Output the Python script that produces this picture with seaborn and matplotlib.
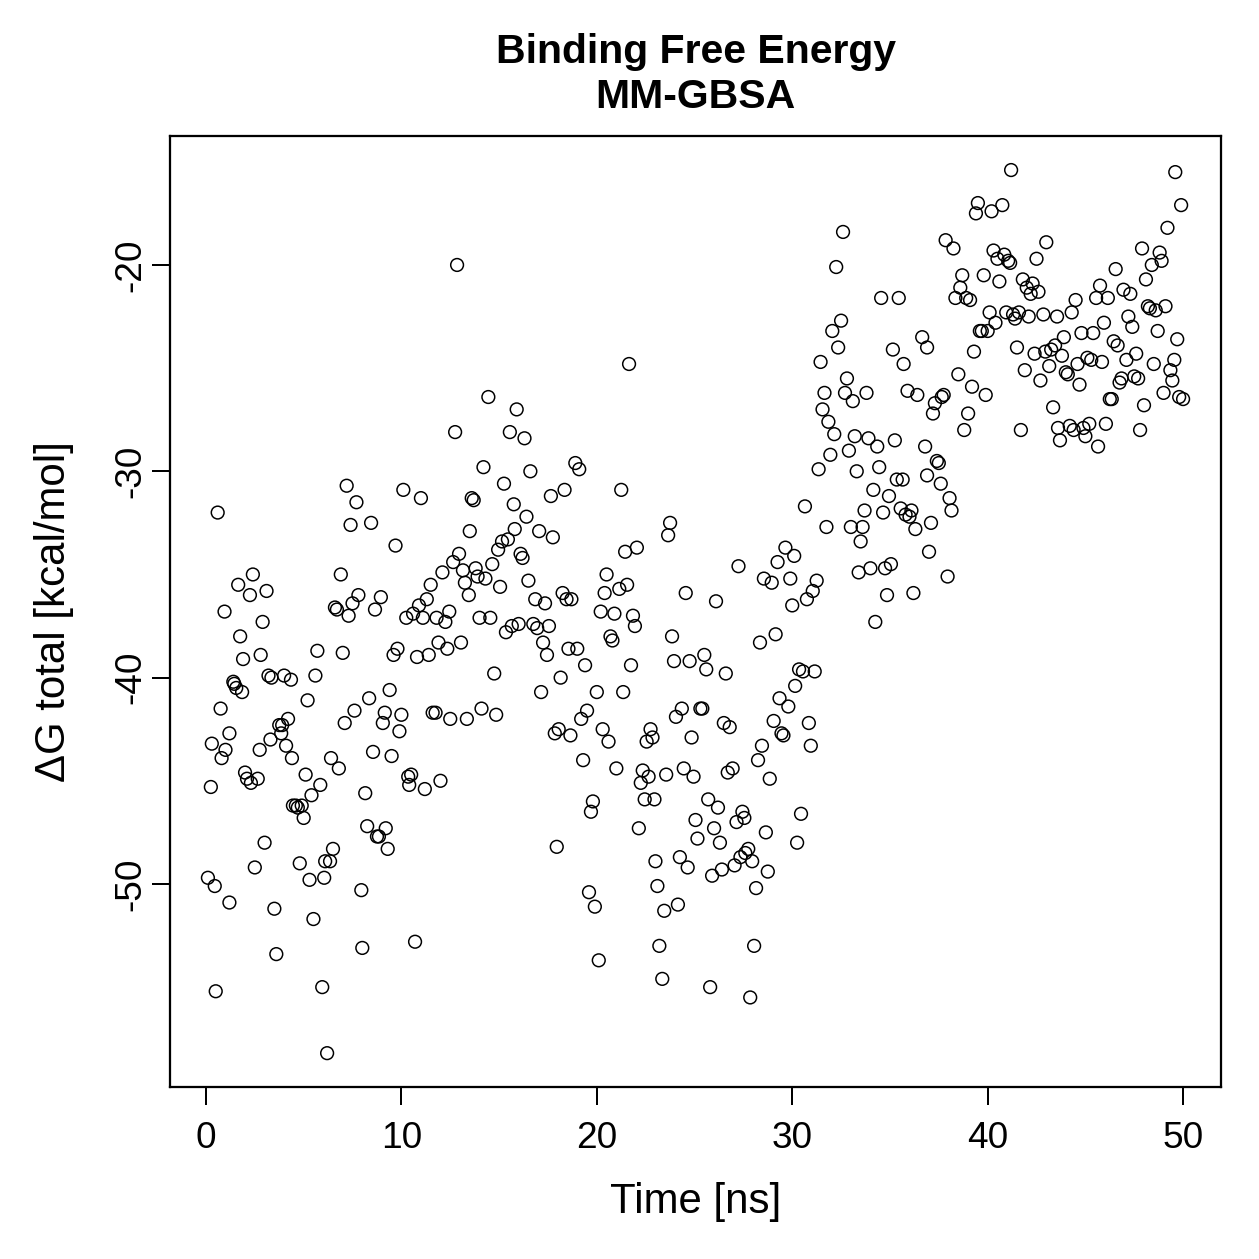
import matplotlib
matplotlib.use("Agg")
import matplotlib.pyplot as plt
import pandas as pd
import seaborn as sns

# time [ns] and binding free energy [kcal/mol]
time_ns = [
    0.1, 0.25, 0.3, 0.45, 0.5, 0.6, 0.75, 0.8, 0.95, 1.0, 1.2, 1.2, 1.4, 1.45, 1.55, 1.65, 1.75, 1.85, 1.9, 2.0,
    2.1, 2.25, 2.3, 2.4, 2.5, 2.65, 2.75, 2.8, 2.9, 3.0, 3.1, 3.2, 3.3, 3.35, 3.5, 3.6, 3.75, 3.85, 3.9, 4.0,
    4.1, 4.2, 4.35, 4.4, 4.45, 4.6, 4.7, 4.8, 4.9, 5.0, 5.1, 5.2, 5.3, 5.4, 5.5, 5.6, 5.7, 5.85, 5.95, 6.05,
    6.1, 6.2, 6.35, 6.4, 6.5, 6.6, 6.7, 6.8, 6.9, 7.0, 7.1, 7.2, 7.3, 7.4, 7.5, 7.6, 7.7, 7.8, 7.95, 8.0,
    8.15, 8.25, 8.35, 8.45, 8.55, 8.65, 8.75, 8.85, 8.95, 9.05, 9.15, 9.2, 9.3, 9.4, 9.5, 9.6, 9.7, 9.8, 9.9, 10.0,
    10.1, 10.25, 10.35, 10.4, 10.5, 10.6, 10.7, 10.8, 10.9, 11.0, 11.1, 11.2, 11.3, 11.4, 11.5, 11.6, 11.75, 11.8, 11.9, 12.0,
    12.1, 12.25, 12.35, 12.45, 12.5, 12.65, 12.75, 12.85, 12.95, 13.05, 13.15, 13.25, 13.35, 13.45, 13.5, 13.6, 13.7, 13.8, 13.9, 14.0,
    14.1, 14.2, 14.3, 14.45, 14.55, 14.65, 14.75, 14.85, 14.95, 15.05, 15.15, 15.25, 15.35, 15.45, 15.55, 15.65, 15.75, 15.8, 15.9, 16.0,
    16.1, 16.2, 16.3, 16.4, 16.5, 16.6, 16.75, 16.85, 16.95, 17.05, 17.15, 17.25, 17.35, 17.45, 17.55, 17.65, 17.75, 17.85, 17.95, 18.05,
    18.15, 18.25, 18.35, 18.45, 18.55, 18.65, 18.7, 18.9, 19.0, 19.1, 19.2, 19.3, 19.4, 19.5, 19.6, 19.7, 19.8, 19.9, 20.0, 20.1,
    20.2, 20.3, 20.4, 20.5, 20.6, 20.7, 20.8, 20.9, 21.0, 21.15, 21.25, 21.35, 21.45, 21.55, 21.65, 21.75, 21.85, 21.95, 22.05, 22.15,
    22.25, 22.35, 22.45, 22.55, 22.65, 22.75, 22.85, 22.95, 23.0, 23.1, 23.2, 23.35, 23.45, 23.55, 23.65, 23.75, 23.85, 23.95, 24.05, 24.15,
    24.25, 24.35, 24.45, 24.55, 24.65, 24.75, 24.85, 24.95, 25.05, 25.15, 25.3, 25.4, 25.5, 25.6, 25.7, 25.8, 25.9, 26.0, 26.1, 26.2,
    26.3, 26.4, 26.5, 26.6, 26.7, 26.8, 26.95, 27.05, 27.15, 27.25, 27.35, 27.45, 27.55, 27.6, 27.75, 27.85, 27.95, 28.05, 28.15, 28.25,
    28.35, 28.45, 28.55, 28.65, 28.75, 28.85, 28.95, 29.05, 29.15, 29.25, 29.35, 29.45, 29.55, 29.65, 29.8, 29.9, 30.0, 30.1, 30.15, 30.25,
    30.35, 30.45, 30.55, 30.65, 30.75, 30.85, 30.95, 31.05, 31.15, 31.25, 31.35, 31.45, 31.55, 31.65, 31.75, 31.85, 31.95, 32.05, 32.15, 32.25,
    32.35, 32.5, 32.6, 32.7, 32.8, 32.9, 33.0, 33.1, 33.2, 33.3, 33.4, 33.5, 33.6, 33.7, 33.8, 33.9, 34.0, 34.15, 34.25, 34.35,
    34.45, 34.55, 34.65, 34.75, 34.85, 34.95, 35.05, 35.15, 35.25, 35.35, 35.45, 35.55, 35.65, 35.7, 35.8, 35.9, 36.0, 36.1, 36.2, 36.3,
    36.4, 36.65, 36.9, 36.8, 36.9, 37.0, 37.1, 37.2, 37.3, 37.4, 37.5, 37.6, 37.65, 37.75, 37.85, 37.95, 38.05, 38.15, 38.25, 38.35,
    38.5, 38.6, 38.7, 38.8, 38.9, 39.0, 39.1, 39.2, 39.3, 39.4, 39.5, 39.6, 39.7, 39.8, 39.9, 40.0, 40.1, 40.2, 40.3, 40.4,
    40.5, 40.6, 40.75, 40.85, 40.95, 41.05, 41.15, 41.2, 41.3, 41.4, 41.5, 41.6, 41.7, 41.8, 41.9, 42.0, 42.1, 42.2, 42.3, 42.4,
    42.5, 42.6, 42.7, 42.85, 42.95, 43.0, 43.15, 43.25, 43.35, 43.45, 43.55, 43.6, 43.7, 43.8, 43.9, 44.0, 44.1, 44.2, 44.3, 44.4,
    44.5, 44.6, 44.7, 44.8, 44.9, 45.0, 45.1, 45.2, 45.3, 45.4, 45.55, 45.65, 45.75, 45.85, 45.95, 46.05, 46.15, 46.25, 46.35, 46.45,
    46.55, 46.65, 46.75, 46.85, 46.95, 47.1, 47.2, 47.3, 47.4, 47.5, 47.6, 47.7, 47.8, 47.9, 48.0, 48.1, 48.2, 48.3, 48.4, 48.5,
    48.6, 48.7, 48.8, 48.9, 49.0, 49.1, 49.2, 49.35, 49.45, 49.55, 49.6, 49.7, 49.8, 49.9, 50.0,
]
delta_g = [
    -49.7, -45.3, -43.2, -50.1, -55.2, -32.0, -41.5, -43.9, -36.8, -43.5, -42.7, -50.9, -40.2, -40.3, -40.5, -35.5, -38.0, -40.7, -39.1, -44.6,
    -44.9, -36.0, -45.1, -35.0, -49.2, -44.9, -43.5, -38.9, -37.3, -48.0, -35.8, -39.9, -43.0, -40.0, -51.2, -53.4, -42.3, -42.7, -42.3, -39.9,
    -43.3, -42.0, -40.1, -43.9, -46.2, -46.2, -46.3, -49.0, -46.2, -46.8, -44.7, -41.1, -49.8, -45.7, -51.7, -39.9, -38.7, -45.2, -55.0, -49.7,
    -48.9, -58.2, -48.9, -43.9, -48.3, -36.6, -36.7, -44.4, -35.0, -38.8, -42.2, -30.7, -37.0, -32.6, -36.4, -41.6, -31.5, -36.0, -50.3, -53.1,
    -45.6, -47.2, -41.0, -32.5, -43.6, -36.7, -47.7, -47.7, -36.1, -42.2, -41.7, -47.3, -48.3, -40.6, -43.8, -38.9, -33.6, -38.6, -42.6, -41.8,
    -30.9, -37.1, -44.8, -45.2, -44.7, -36.9, -52.8, -39.0, -36.5, -31.3, -37.1, -45.4, -36.2, -38.9, -35.5, -41.7, -41.7, -37.1, -38.3, -45.0,
    -34.9, -37.3, -38.6, -36.8, -42.0, -34.4, -28.1, -20.0, -34.0, -38.3, -34.8, -35.4, -42.0, -36.0, -32.9, -31.3, -31.4, -34.7, -35.1, -37.1,
    -41.5, -29.8, -35.2, -26.4, -37.1, -34.5, -39.8, -41.8, -33.8, -35.6, -33.4, -30.6, -37.8, -33.3, -28.1, -37.5, -31.6, -32.8, -27.0, -37.4,
    -34.0, -34.2, -28.4, -32.2, -35.3, -30.0, -37.4, -36.2, -37.6, -32.9, -40.7, -38.3, -36.4, -38.9, -37.5, -31.2, -33.2, -42.7, -48.2, -42.5,
    -40.0, -35.9, -30.9, -36.2, -38.6, -42.8, -36.2, -29.6, -38.6, -29.9, -42.0, -44.0, -39.4, -41.6, -50.4, -46.5, -46.0, -51.1, -40.7, -53.7,
    -36.8, -42.5, -35.9, -35.0, -43.1, -38.0, -38.2, -36.9, -44.4, -35.7, -30.9, -40.7, -33.9, -35.5, -24.8, -39.4, -37.0, -37.5, -33.7, -47.3,
    -45.1, -44.5, -45.9, -43.1, -44.8, -42.5, -42.9, -45.9, -48.9, -50.1, -53.0, -54.6, -51.3, -44.7, -33.1, -32.5, -38.0, -39.2, -41.9, -51.0,
    -48.7, -41.5, -44.4, -35.9, -49.2, -39.2, -42.9, -44.8, -46.9, -47.8, -41.5, -41.5, -38.9, -39.6, -45.9, -55.0, -49.6, -47.3, -36.3, -46.3,
    -48.0, -49.3, -42.2, -39.8, -44.6, -42.4, -44.4, -49.1, -47.0, -34.6, -48.7, -46.5, -46.8, -48.5, -48.3, -55.5, -48.9, -53.0, -50.2, -44.0,
    -38.3, -43.3, -35.2, -47.5, -49.4, -44.9, -35.4, -42.1, -37.9, -34.4, -41.0, -42.7, -42.8, -33.7, -41.4, -35.2, -36.5, -34.1, -40.4, -48.0,
    -39.6, -46.6, -39.7, -31.7, -36.2, -42.2, -43.3, -35.8, -39.7, -35.3, -29.9, -24.7, -27.0, -26.2, -32.7, -27.6, -29.2, -23.2, -28.2, -20.1,
    -24.0, -22.7, -18.4, -26.2, -25.5, -29.0, -32.7, -26.6, -28.3, -30.0, -34.9, -33.4, -32.7, -31.9, -26.2, -28.4, -34.7, -30.9, -37.3, -28.8,
    -29.8, -21.6, -32.0, -34.7, -36.0, -31.2, -34.5, -24.1, -28.5, -30.4, -21.6, -31.8, -30.4, -24.8, -32.1, -26.1, -32.2, -31.9, -35.9, -32.8,
    -26.3, -23.5, -24.0, -28.8, -30.2, -33.9, -32.5, -27.2, -26.7, -29.5, -29.6, -30.6, -26.4, -26.3, -18.8, -35.1, -31.3, -31.9, -19.2, -21.6,
    -25.3, -21.1, -20.5, -28.0, -21.6, -27.2, -21.7, -25.9, -24.2, -17.5, -17.0, -23.2, -23.2, -20.5, -26.3, -23.2, -22.3, -17.4, -19.3, -22.8,
    -19.7, -20.8, -17.1, -19.5, -22.3, -19.8, -19.9, -15.4, -22.4, -22.6, -24.0, -22.3, -28.0, -20.7, -25.1, -21.1, -22.5, -21.4, -20.9, -24.3,
    -19.7, -21.3, -25.6, -22.4, -24.2, -18.9, -24.9, -24.1, -26.9, -23.9, -22.5, -27.9, -28.5, -24.4, -23.5, -25.2, -25.3, -27.8, -22.3, -28.0,
    -21.7, -24.8, -25.8, -23.3, -27.9, -28.3, -24.5, -27.7, -24.6, -23.3, -21.6, -28.8, -21.0, -24.7, -22.8, -27.7, -21.6, -26.5, -26.5, -23.7,
    -20.2, -23.9, -25.7, -25.5, -21.2, -24.6, -22.5, -21.4, -23.0, -25.4, -24.3, -25.5, -28.0, -19.2, -26.8, -20.7, -22.0, -22.1, -20.0, -24.8,
    -22.2, -23.2, -19.4, -19.8, -26.2, -22.0, -18.2, -25.1, -25.6, -24.6, -15.5, -23.6, -26.4, -17.1, -26.5,
]

x_ticks = [0, 10, 20, 30, 40, 50]
y_ticks = [-20, -30, -40, -50]

df = pd.DataFrame({"time": time_ns, "dg": delta_g})

sns.set_style("ticks")
plt.rcParams["font.family"] = ["Liberation Sans", "DejaVu Sans"]
plt.rcParams["text.color"] = "black"
plt.rcParams["axes.labelcolor"] = "black"

fig = plt.figure(figsize=(1259 / 180, 1259 / 180), dpi=180)
ax = fig.add_axes([170 / 1259, 1 - 1087 / 1259, (1221 - 170) / 1259, (1087 - 136) / 1259])

sns.scatterplot(data=df, x="time", y="dg", ax=ax, marker="o", s=26,
                facecolors="none", edgecolor="black", linewidth=0.6)

ax.set_xlim(-1.84, 51.94)
ax.set_ylim(-59.84, -13.75)
ax.set_xticks(x_ticks)
ax.set_yticks(y_ticks)
ax.set_yticklabels([str(v) for v in y_ticks], rotation=90, va="center")
ax.tick_params(direction="out", length=7.2, width=0.8, labelsize=14.8, colors="black")
ax.tick_params(axis="x", pad=6.4)
ax.tick_params(axis="y", pad=1.5)
for sp in ax.spines.values():
    sp.set_visible(True)
    sp.set_linewidth(0.9)
    sp.set_color("black")

ax.set_xlabel("Time [ns]", fontsize=16.8, labelpad=10.4, color="black")
ax.set_ylabel("ΔG total [kcal/mol]", fontsize=16.8, labelpad=15.6, color="black")
ax.set_title("Binding Free Energy\nMM-GBSA", fontsize=16.4, fontweight="bold", pad=11,
             linespacing=1.26, color="black")

fig.savefig("out.png", dpi=180, facecolor="white")
